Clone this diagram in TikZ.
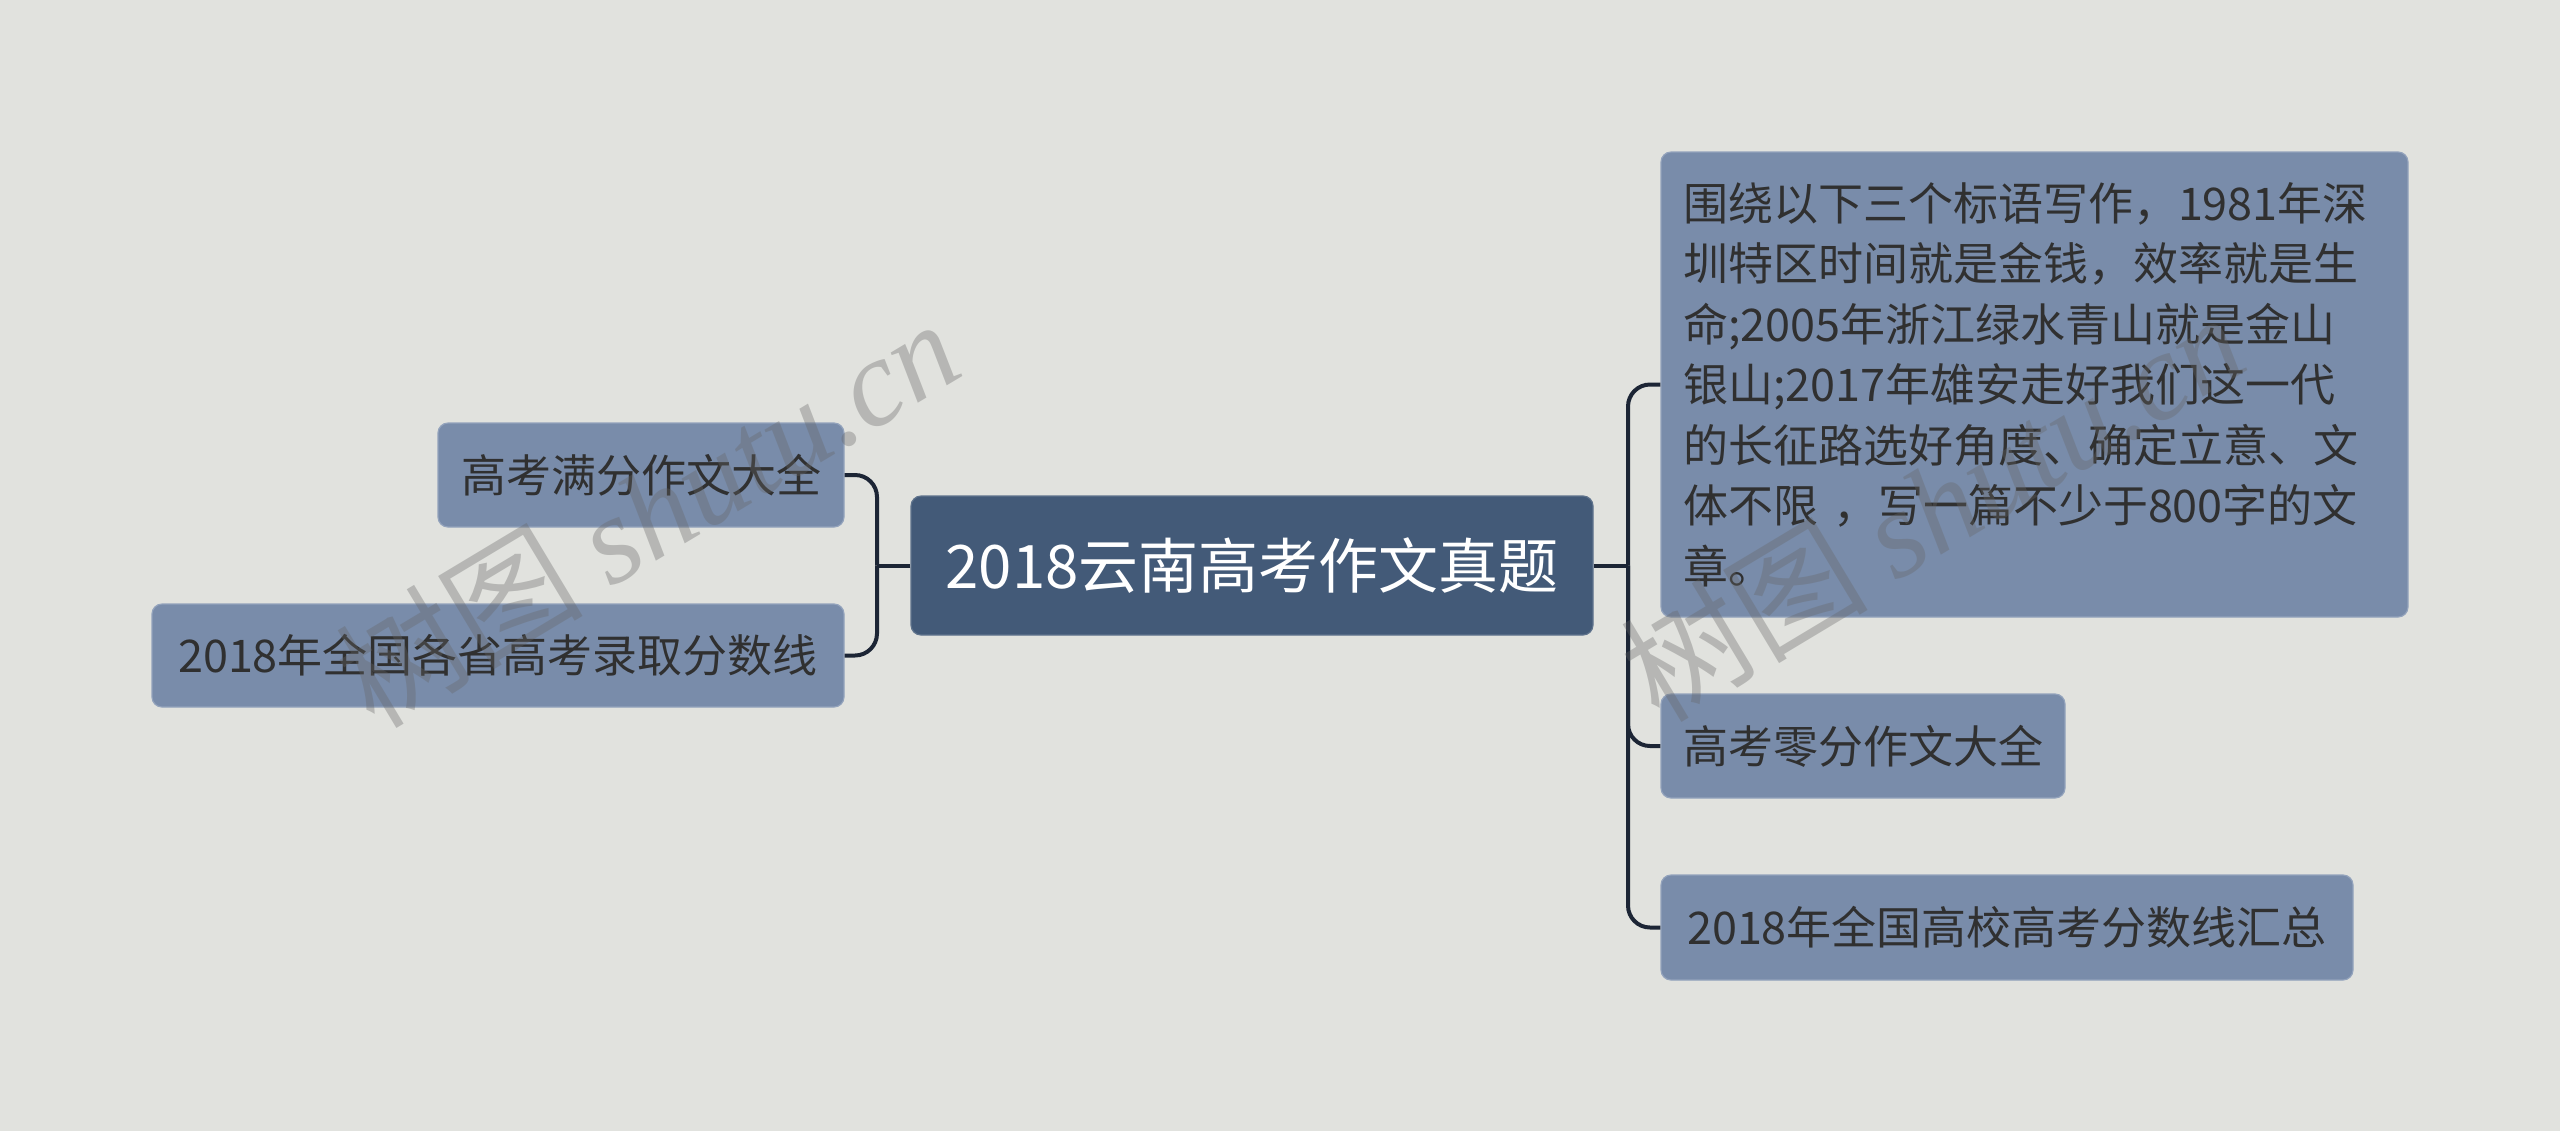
\documentclass[tikz,border=0pt]{standalone}
\usepackage{fontspec}
\setmainfont{Noto Sans CJK SC}
\newfontfamily\wmlatin{Liberation Serif}
\definecolor{bg}{HTML}{E1E2DE}
\definecolor{childfill}{HTML}{798CAA}
\definecolor{childline}{HTML}{93A3BC}
\definecolor{rootfill}{HTML}{435A78}
\definecolor{linecol}{HTML}{1C2535}
\definecolor{txt}{HTML}{303030}
\begin{document}
\begin{tikzpicture}[x=0.5pt,y=-0.5pt,
  rootbox/.style={fill=rootfill,draw=rootfill!85!white,line width=0.6pt,rounded corners=5pt,text=white,
    font=\fontsize{30}{36}\selectfont,inner sep=0pt},
  childbox/.style={fill=childfill,draw=childline,line width=0.6pt,rounded corners=5pt,text=txt,
    font=\fontsize{22.5}{30.25}\selectfont,inner sep=0pt},
  conn/.style={draw=linecol,line width=2pt,rounded corners=11pt},
  wm/.style={text=black!60,opacity=0.35,font=\fontsize{62}{70}\selectfont,inner sep=0pt}]
\fill[bg] (0,0) rectangle (2560,1131);
\useasboundingbox (0,0) rectangle (2560,1131);

% root
\node[rootbox,minimum width=341pt,minimum height=69.5pt] (root) at (1252,565.5) {2018云南高考作文真题};

% left children
\node[childbox,minimum width=203pt,minimum height=52pt] (l1) at (641,475) {高考满分作文大全};
\node[childbox,minimum width=346pt,minimum height=51.5pt] (l2) at (498,655.5) {2018年全国各省高考录取分数线};

% right children
\node[childbox,minimum width=373.5pt,minimum height=232.5pt,text width=351.5pt,inner xsep=11pt,align=left] (r1) at (2034.5,384.5)
  {围绕以下三个标语写作，1981年深\\圳特区时间就是金钱，效率就是生\\命;2005年浙江绿水青山就是金山\\银山;2017年雄安走好我们这一代\\的长征路选好角度、确定立意、文\\体不限 ，写一篇不少于800字的文\\章。};
\node[childbox,minimum width=202pt,minimum height=52pt] (r2) at (1863,746) {高考零分作文大全};
\node[childbox,minimum width=346pt,minimum height=52.5pt] (r3) at (2007,927.5) {2018年全国高校高考分数线汇总};

% junctions
\coordinate (lj) at (877,565.5);
\coordinate (rj) at (1628,565.5);

% connectors
\draw[conn] (root.west) -- (lj);
\draw[conn] (lj) |- (l1.east);
\draw[conn] (lj) |- (l2.east);
\draw[conn] (root.east) -- (rj);
\draw[conn] (rj) |- (r1.west);
\draw[conn] (rj) |- (r2.west);
\draw[conn] (rj) |- (r3.west);

% watermarks
\node[wm,rotate=31] (wm1) at (647,512) {树图 {\wmlatin\itshape shutu.cn}};
\node[wm,rotate=31] (wm2) at (1932,506) {树图 {\wmlatin\itshape shutu.cn}};
\end{tikzpicture}
\end{document}
